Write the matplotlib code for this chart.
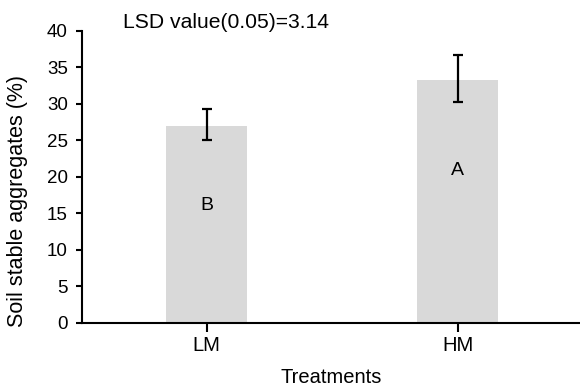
import matplotlib
matplotlib.use("Agg")
import matplotlib.pyplot as plt
import numpy as np

plt.rcParams['font.family'] = ['Liberation Sans', 'DejaVu Sans']

treatments = ["LM", "HM"]
means = [27.0, 33.25]
err_low = [1.96, 3.06]
err_high = [2.28, 3.46]
letters = ["B", "A"]
letter_y = [16.0, 20.8]
lsd_text = "LSD value(0.05)=3.14"

fig = plt.figure(figsize=(5.8, 3.87), dpi=100)
ax = fig.add_axes([0.1409, 0.1661, 0.8591, 0.7545])

x = np.arange(len(treatments))
ax.bar(x, means, width=0.323, color="#d9d9d9", zorder=1)
ax.errorbar(x, means, yerr=[err_low, err_high], fmt="none", ecolor="black",
            elinewidth=1.6, capsize=3.3, capthick=1.6, zorder=3)

for xi, lab, ly in zip(x, letters, letter_y):
    ax.text(xi, ly, lab, ha="center", va="center", fontsize=14)

ax.set_xlim(-0.498, 1.487)
ax.set_ylim(0, 40)
ax.set_yticks(np.arange(0, 41, 5))
ax.set_xticks(x)
ax.set_xticklabels(treatments)

for s in ["top", "right"]:
    ax.spines[s].set_visible(False)
for s in ["left", "bottom"]:
    ax.spines[s].set_linewidth(1.5)

ax.tick_params(axis="y", length=4, width=1.5, pad=6, labelsize=13.5)
ax.tick_params(axis="x", length=6.5, width=1.5, pad=3, labelsize=14.5)

ax.set_xlabel("Treatments", fontsize=14.5, labelpad=9.5)
ax.set_ylabel("Soil stable aggregates (%)", fontsize=15.5)
ax.yaxis.set_label_coords(-0.108, 0.417)

fig.text(122.7 / 580, 1 - 28.5 / 387, lsd_text, ha="left", va="baseline", fontsize=15.2)

fig.savefig("out.png", dpi=100)
